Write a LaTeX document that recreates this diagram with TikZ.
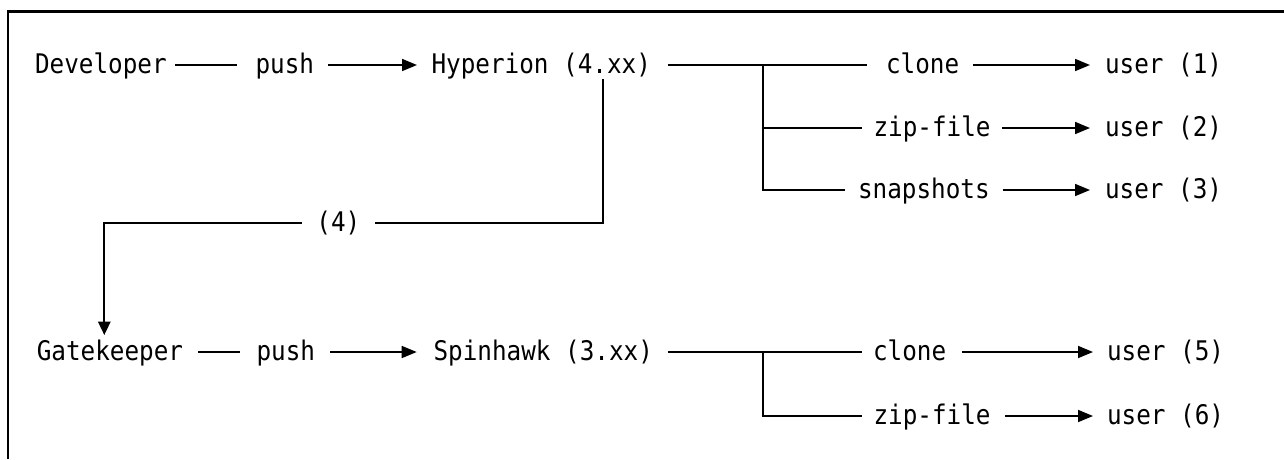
\documentclass[tikz,border=0pt]{standalone}
\usepackage{fontspec}
\newfontfamily\dmono[FakeStretch=0.9]{DejaVu Sans Mono}
\usetikzlibrary{arrows.meta}
\begin{document}
\begin{tikzpicture}[x=1pt,y=-1pt,
  lbl/.style={font=\dmono\fontsize{27pt}{30pt}\selectfont, inner sep=0pt, outer sep=0pt,
              text height=19pt, text depth=2pt, anchor=west},
  conn/.style={line width=1.7pt},
  arr/.style={conn, -{Triangle[length=15pt,width=12pt]}},
  varr/.style={conn, -{Triangle[length=13.5pt,width=12.5pt]}},
]
\useasboundingbox (0,0) rectangle (1284,459);
% frame
\draw[line width=2.7pt] (8,459) -- (8,11.3) -- (1284,11.3);

% row 1
\node[lbl] (dev)    at (35,65)    {Developer};
\node[lbl] (push1)  at (255.5,65) {push};
\node[lbl] (hyp)    at (431.5,65) {Hyperion (4.xx)};
\node[lbl] (clone1) at (886,65)   {clone};
\node[lbl] (user1)  at (1105,65)  {user (1)};
\node[lbl] (zip2)   at (873.5,128) {zip-file};
\node[lbl] (user2)  at (1105,128)  {user (2)};
\node[lbl] (snap3)  at (858,190)  {snapshots};
\node[lbl] (user3)  at (1105,190) {user (3)};
\node[lbl, anchor=center] (four) at (338.4,223) {(4)};
% row 5
\node[lbl] (gate)   at (36.8,352)  {Gatekeeper};
\node[lbl] (push5)  at (256.5,352) {push};
\node[lbl] (spin)   at (433.5,352) {Spinhawk (3.xx)};
\node[lbl] (clone5) at (873,352)   {clone};
\node[lbl] (user5)  at (1107,352)  {user (5)};
\node[lbl] (zip6)   at (873.5,416) {zip-file};
\node[lbl] (user6)  at (1107,416)  {user (6)};

\coordinate (b1) at (763,65);
\coordinate (b5) at (763,352);

% row 1 connectors
\draw[conn, shorten <=8.3pt, shorten >=18.5pt] (dev.east) -- (push1.west);
\draw[arr, shorten <=14pt, shorten >=14.5pt] (push1.east) -- (hyp.west);
\draw[conn, shorten <=17pt, shorten >=19pt] (hyp.east) -- (clone1.west);
\draw[arr, shorten <=13.8pt, shorten >=15pt] (clone1.east) -- (user1.west);
\draw[conn] (b1) |- ([xshift=-11.5pt]zip2.west);
\draw[conn] (b1) |- ([xshift=-13pt]snap3.west);
\draw[arr, shorten <=11pt, shorten >=15pt] (zip2.east) -- (user2.west);
\draw[arr, shorten <=13.3pt, shorten >=15pt] (snap3.east) -- (user3.west);

% (4) link
\draw[conn] ([xshift=61.5pt,yshift=-3.5pt]hyp.south) |- ([xshift=14.7pt]four.east);
\draw[varr] ([xshift=-14.7pt]four.west) -| ([xshift=67.5pt,yshift=6.5pt]gate.north west);

% row 5 connectors
\draw[conn, shorten <=15pt, shorten >=16.5pt] (gate.east) -- (push5.west);
\draw[arr, shorten <=15pt, shorten >=16.8pt] (push5.east) -- (spin.west);
\draw[conn, shorten <=15pt, shorten >=11pt] (spin.east) -- (clone5.west);
\draw[arr, shorten <=15.5pt, shorten >=14pt] (clone5.east) -- (user5.west);
\draw[conn] (b5) |- ([xshift=-11.5pt]zip6.west);
\draw[arr, shorten <=14.5pt, shorten >=14pt] (zip6.east) -- (user6.west);
\end{tikzpicture}
\end{document}
